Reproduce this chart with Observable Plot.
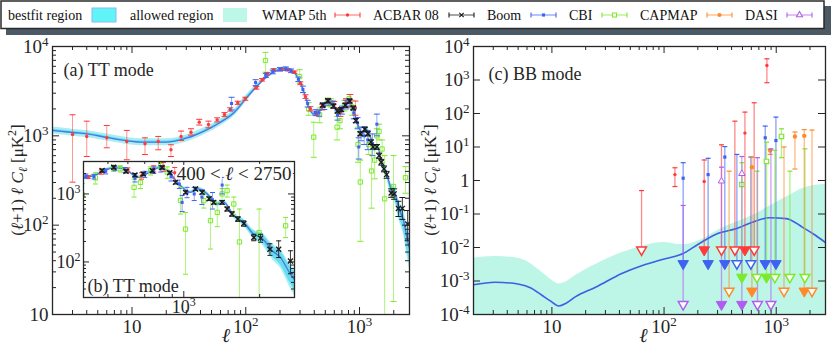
<!DOCTYPE html>
<html><head><meta charset="utf-8">
<script src="https://cdn.jsdelivr.net/npm/d3@7"></script>
<script src="https://cdn.jsdelivr.net/npm/@observablehq/plot@0.6"></script>
<style>
html,body{margin:0;padding:0;background:#fff;}
#wrap{position:relative;width:831px;height:347px;overflow:hidden;}
#wrap svg{position:absolute;}
</style></head><body><div id="wrap"></div>
<script>
// ---------------- DATA ----------------
// Legend / series names and colours
const seriesNames = ["WMAP 5th", "ACBAR 08", "Boom", "CBI", "CAPMAP", "DASI"];
const seriesColors = ["#ff3a3a", "#1a1a1a", "#3d63f0", "#7bea2a", "#ff8a2b", "#b05cf0"];
const bandNames = ["bestfit region", "allowed region"];

// TT theory (bestfit curve) and bands
const ttL = [2,3,4,6,8,12,20,30,45,60,80,100,135,175,220,265,300,335,360,400,440,527,578,663,740,809,872,970,1063,1131,1239,1358,1443,1579,1730,1896,2047,2244,2421,2650,2750];
const ttD = [1150,1090,1050,960,900,850,850,940,1160,1420,1850,2600,3950,5150,5650,5150,4000,2750,2050,1750,1860,2420,2330,1760,2150,2470,2080,1330,1056,1185,1000,712,752,478,381,256,224,146,116,66,55];
const ttBestLo = [1116,1057,1019,931,873,825,825,912,1125,1377,1795,2522,3851,5021,5509,5021,3900,2681,1999,1706,1814,2360,2272,1716,2096,2408,2028,1297,1030,1126,950,676,714,454,351,230,193,120,90,48,39];
const ttBestHi = [1184,1123,1081,989,927,875,875,968,1195,1463,1905,2678,4049,5279,5791,5279,4100,2819,2101,1794,1907,2481,2388,1804,2204,2532,2132,1363,1082,1244,1050,748,790,502,411,282,255,172,142,84,72];
const ttAllowLo = [1047,992,956,874,819,774,774,855,1056,1292,1684,2366,3753,4893,5368,4893,3800,2613,1948,1663,1767,2299,2214,1672,2043,2347,1976,1264,1003,1090,920,655,692,440,335,218,179,110,81,41,32];
const ttAllowHi = [1253,1188,1144,1046,981,926,926,1025,1264,1548,2016,2834,4148,5408,5933,5408,4200,2888,2153,1838,1953,2541,2447,1848,2258,2594,2184,1397,1109,1280,1080,769,812,516,427,294,269,183,151,91,78];

// TT data: WMAP 5th
const ttWmapL  = [3,4,6,9,13,17,22,27,33,39,47,56,65,73,85,99,124,139,154,176,206,234,268,302,335,370,418,470,530,600,680,760,830,920];
const ttWmapV  = [1035,984,950,865,815,865,698,984,1098,1422,1340,1510,1735,1973,2344,2600,3450,4240,4950,5490,5550,5490,5160,3880,2750,2010,1770,2100,2450,2250,1850,2350,2500,2050];
const ttWmapLo = [303,587,735,540,618,698,587,887,1020,1320,1230,1430,1650,1890,2250,2500,3330,4100,4800,5330,5400,5330,5000,3740,2620,1900,1680,1950,2300,2080,1650,2100,2150,1700];
const ttWmapHi = [1722,1459,1306,1150,950,984,794,1130,1200,1530,1460,1590,1820,2060,2440,2700,3570,4380,5100,5650,5700,5650,5320,4020,2880,2120,1860,2250,2600,2420,2050,2600,2900,2450];
// TT data: Boomerang
const ttBoomL  = [75,122,150,173,200,225,250,290,318,350,409,440,490,533,585,640,700,760,810,890,960,985,1030,1100,1180,1300,1420];
const ttBoomV  = [2300,3950,4750,5200,5550,5650,5350,4300,3300,2300,1830,1800,2150,2380,2250,1700,1950,2250,2350,1800,1400,750,1050,1000,900,820,1350];
const ttBoomLo = [1950,3650,4500,4950,5300,5400,5100,4050,3050,2100,1700,1660,1970,2200,2050,1500,1750,2000,2100,1550,1200,550,880,800,700,600,1000];
const ttBoomHi = [2700,4250,5000,5450,5800,5900,5600,4550,3600,2500,1960,1940,2330,2560,2450,1900,2150,2500,2600,2050,1600,950,1250,1250,1150,1050,1750];
// TT data: ACBAR 08
const ttAcbarL  = [474,527,590,640,690,750,820,880,927,1016,1113,1182,1260,1315,1419,1486,1553,1640,1730,1896,2017,2197,2380,2650];
const ttAcbarV  = [2210,2470,2150,1900,1970,2200,2450,2050,1480,1055,1185,1055,850,752,752,600,506,427,368,229,224,154,154,103];
const ttAcbarLo = [2100,2350,2040,1800,1870,2090,2330,1950,1400,1000,1120,1000,800,710,705,560,470,395,335,205,195,125,116,67];
const ttAcbarHi = [2320,2590,2260,2000,2070,2310,2570,2150,1560,1110,1250,1110,900,795,800,640,545,460,400,255,255,185,204,146];
// TT data: CBI
const ttCbiL  = [149,298,357,396,446,527,560,635,673,738,809,860,970,1016,1200,1276,1358,1419,1486,1579,1663,1990,2536];
const ttCbiV  = [6970,4610,2000,967,1720,2400,2350,1250,1480,2210,2600,2100,800,304,796,404,535,1000,1120,712,197,271,340];
const ttCbiLo = [5160,3870,1700,575,1400,2150,2100,900,1200,1900,2300,1700,506,66,620,155,330,800,900,500,10,14,228];
const ttCbiHi = [8600,5500,2350,1420,2050,2650,2600,1650,1800,2500,2900,2500,1250,535,1000,800,750,1200,1350,900,600,600,452];

// BB theory curve and allowed region (upper envelope)
const bbLineL = [2,3.1,5.1,6.5,8.2,9.6,11.5,13.5,16.3,24.5,42.5,64,96.5,146,205,309,436,614,869,1230,1720,2200,2750];
const bbLineV = [7.7e-4,9.2e-4,8e-4,6.2e-4,3.7e-4,2.6e-4,1.8e-4,2.2e-4,3.4e-4,6.5e-4,1.7e-3,2.9e-3,4.4e-3,6.5e-3,1.3e-2,2.7e-2,3.6e-2,5.7e-2,7.7e-2,7.3e-2,4e-2,2.4e-2,1.4e-2];
const bbAllowL  = [2,3.1,5.1,8.2,10,11.5,13.5,16.3,24.5,42.5,64,96.5,146,205,309,614,1230,1860,2750];
const bbAllowHi = [4.8e-3,5.4e-3,4.7e-3,1.8e-3,1.05e-3,8.2e-4,9.5e-4,1.45e-3,3.1e-3,7.1e-3,1.07e-2,1.4e-2,1.2e-2,1.6e-2,3.4e-2,9e-2,0.32,0.63,0.76];

// BB data (c = central value or null, lo = lower end / arrow tip, arr: "f" filled arrow, "o" open arrow, "" none)
const bbWmapL  = [63,125,228,325,428,526,636,826];
const bbWmapC  = [null,1.5,0.93,null,null,26,null,2700];
const bbWmapHi = [0.5,2.4,4.1,11.6,59,110,209,4300];
const bbWmapLo = [0.0085,0.66,0.0085,0.0085,0.0085,0.0085,0.0085,830];
const bbWmapA  = ["o","","f","o","o","f","o",""];

const bbBoomL  = [148,247,348,446,594,798,994];
const bbBoomC  = [1.17,1.5,5.0,null,null,18.8,15.6];
const bbBoomHi = [3.4,4.6,10.3,6.0,5.0,42,78];
const bbBoomLo = [0.0033,0.0033,0.0033,0.0033,0.0033,0.0033,0.0033];
const bbBoomA  = ["f","f","f","o","o","f","f"];

const bbCbiL  = [494,673,819,973,1114,1324,1804];
const bbCbiC  = [0.76,null,3.7,null,20.6,null,null];
const bbCbiHi = [3.4,1.9,13.9,8,35,1.9,8.8];
const bbCbiLo = [0.0013,0.0013,0.0013,0.0013,4.8,0.0013,0.0013];
const bbCbiA  = ["f","o","f","o","","o","o"];

const bbCapL  = [380,607,883,1173,1468,1778,2084];
const bbCapC  = [null,2.5,7.8,null,20.6,21.5,null];
const bbCapHi = [1.9,5,8.5,10,28,33,32];
const bbCapLo = [0.0005,0.0005,6,0.0005,2.2,0.0005,0.0005];
const bbCapA  = ["o","f","","o","","f","o"];

const bbDasiL  = [148,325,494,681,897];
const bbDasiC  = [null,0.96,1.6,null,null];
const bbDasiHi = [0.18,2.5,5.2,4.8,8.8];
const bbDasiLo = [0.0002,0.0002,0.0002,0.0002,0.0002];
const bbDasiA  = ["o","f","f","o","o"];

// ---------------- STYLE ----------------
const FONT = '"Liberation Serif","Times New Roman",Times,serif';
const INK = "#262626";
const [RED, BLACK, BLUE, GREEN, ORANGE, PURPLE] = seriesColors;
const TT_ALLOW = "#aaeef3", TT_BEST = "#66def0", TT_LINE = "#4f74e0";
const BB_ALLOW = "#bdf5e6", BB_LINE = "#3c5fe6";
const LEG_BEST = "#5ef4f8", LEG_ALLOW = "#bcf7e8";

// ---------------- HELPERS ----------------
const capSym = w => ({draw(ctx){ ctx.moveTo(-w/2,0); ctx.lineTo(w/2,0); }});
const isMaj = v => Math.abs(Math.log10(v) - Math.round(Math.log10(v))) < 1e-6;

// inward frame ticks on all four sides (W,H = frame size in px)
function frameTicks(xdom, ydom, W, H, {yMinor = true, L = 7, l = 4} = {}) {
  const xt = d3.scaleLog().domain(xdom).ticks().filter(v => v >= xdom[0] && v <= xdom[1]);
  const yt = d3.scaleLog().domain(ydom).ticks().filter(v => v >= ydom[0] && v <= ydom[1]);
  const o = {stroke: INK, strokeWidth: 1};
  const marks = [];
  for (const [arr, len] of [[xt.filter(isMaj), L], [xt.filter(v => !isMaj(v)), l]]) {
    marks.push(Plot.tickX(arr, {x: d => d, insetTop: H - len, ...o}));
    marks.push(Plot.tickX(arr, {x: d => d, insetBottom: H - len, ...o}));
  }
  for (const [arr, len] of [[yt.filter(isMaj), L], [yMinor ? yt.filter(v => !isMaj(v)) : [], l]]) {
    marks.push(Plot.tickY(arr, {y: d => d, insetRight: W - len, ...o}));
    marks.push(Plot.tickY(arr, {y: d => d, insetLeft: W - len, ...o}));
  }
  return marks;
}

const series = (L, V, Lo, Hi) => L.map((l, i) => ({l, v: V[i], lo: Lo[i], hi: Hi[i]}));
const bbSeries = (L, C, Lo, Hi, A) => L.map((l, i) => ({l, c: C[i], lo: Lo[i], hi: Hi[i], arr: A[i]}));

function errMarks(data, col, marker, capW, lw, op) {
  return [
    Plot.ruleX(data, {x: "l", y1: "lo", y2: "hi", stroke: col, strokeOpacity: op, strokeWidth: lw, clip: true}),
    Plot.dot(data, {x: "l", y: "lo", symbol: capSym(capW), stroke: col, fill: "none", strokeWidth: lw, clip: true}),
    Plot.dot(data, {x: "l", y: "hi", symbol: capSym(capW), stroke: col, fill: "none", strokeWidth: lw, clip: true}),
    Plot.dot(data, {x: "l", y: "v", ...marker, clip: true})
  ];
}

const fmtA = v => { const e = Math.round(Math.log10(v)); return e === 0 ? "1" : e === 1 ? "10" : "10^" + e; };
const fmtB = v => { const e = Math.round(Math.log10(v)); return e === 0 ? "1" : "10^" + e; };

function richify(root) {
  root.querySelectorAll("text").forEach(t => {
    const s = t.textContent;
    if (!/[\^ℓ]/.test(s) || t.querySelector("tspan")) return;
    const fs = parseFloat(getComputedStyle(t).fontSize) || 18;
    const rise = Math.round(fs * 0.38);
    const parts = s.match(/\^-?\d+|ℓ|[^\^ℓ]+/g);
    t.textContent = "";
    let raised = false;
    for (const p of parts) {
      const ts = document.createElementNS("http://www.w3.org/2000/svg", "tspan");
      if (p[0] === "^") {
        ts.textContent = p.slice(1); ts.setAttribute("dy", -rise); ts.setAttribute("font-size", Math.round(fs * 0.68)); raised = true;
      } else {
        if (raised) { ts.setAttribute("dy", rise); raised = false; }
        ts.textContent = p;
        if (p === "ℓ") ts.setAttribute("font-style", "italic");
      }
      t.appendChild(ts);
    }
  });
}

function yLabel(svg, x, y) {
  const t = d3.select(svg).append("text")
    .attr("transform", `translate(${x},${y}) rotate(-90)`)
    .attr("text-anchor", "middle").attr("font-size", 17).attr("fill", INK).attr("font-family", FONT);
  t.append("tspan").text("(");
  t.append("tspan").attr("font-style", "italic").text("ℓ");
  t.append("tspan").text("+1) ");
  t.append("tspan").attr("font-style", "italic").text("ℓ C");
  t.append("tspan").attr("font-style", "italic").attr("font-size", 12).attr("dy", 4).text("ℓ");
  t.append("tspan").attr("dy", -4).text(" [μK");
  t.append("tspan").attr("font-size", 12).attr("dy", -7).text("2");
  t.append("tspan").attr("dy", 7).text("]");
}

function place(el, left, top) {
  el.style.position = "absolute"; el.style.left = left + "px"; el.style.top = top + "px";
  document.getElementById("wrap").appendChild(el);
}

// ---------------- BUILD TT DATA ----------------
const tt = ttL.map((l, i) => ({l, d: ttD[i], bl: ttBestLo[i], bh: ttBestHi[i], al: ttAllowLo[i], ah: ttAllowHi[i]}));
const wmap = series(ttWmapL, ttWmapV, ttWmapLo, ttWmapHi);
const boom = series(ttBoomL, ttBoomV, ttBoomLo, ttBoomHi);
const acbar = series(ttAcbarL, ttAcbarV, ttAcbarLo, ttAcbarHi);
const cbi = series(ttCbiL, ttCbiV, ttCbiLo, ttCbiHi);

const mkW = {symbol: "circle", r: 1.7, fill: RED, stroke: "none"};
const mkB = {symbol: "square", r: 1.7, fill: BLUE, stroke: "none"};
const mkA = {symbol: "times", r: 2.4, stroke: BLACK, strokeWidth: 1.3, fill: "none"};
const mkC = {symbol: "square", r: 2.4, fill: "none", stroke: GREEN, strokeWidth: 1};

function ttLayers(capW) {
  return [
    Plot.areaY(tt, {x: "l", y1: "al", y2: "ah", fill: TT_ALLOW, curve: "monotone-x", clip: true}),
    Plot.areaY(tt, {x: "l", y1: "bl", y2: "bh", fill: TT_BEST, curve: "monotone-x", clip: true}),
    Plot.line(tt, {x: "l", y: "d", stroke: TT_LINE, strokeWidth: 1.3, curve: "monotone-x", clip: true}),
    ...errMarks(cbi, GREEN, mkC, capW, 1, 0.6),
    ...errMarks(wmap, RED, mkW, capW, 1, 0.55),
    ...errMarks(boom, BLUE, mkB, capW, 1, 0.55),
    ...errMarks(acbar, BLACK, mkA, capW, 1, 0.85)
  ];
}

const xDom = [2, 2750];
const baseStyle = {background: "transparent", fontFamily: FONT, fontSize: "19px", color: INK, overflow: "visible"};

// ---------------- LEFT: TT ----------------
const ttPlot = Plot.plot({
  width: 415, height: 347, marginLeft: 52, marginRight: 6, marginTop: 46, marginBottom: 33,
  x: {type: "log", domain: xDom, axis: null},
  y: {type: "log", domain: [10, 1e4], axis: null},
  style: baseStyle,
  marks: [
    ...ttLayers(6),
    ...frameTicks(xDom, [10, 1e4], 357, 268),
    Plot.frame({stroke: INK, strokeWidth: 1.3}),
    Plot.axisX({ticks: [10, 100, 1000], tickFormat: fmtA, tickSize: 0, tickPadding: 5, label: null}),
    Plot.axisY({ticks: [10, 100, 1000, 10000], tickFormat: fmtA, tickSize: 0, tickPadding: 4, label: null}),
    Plot.text(["(a) TT mode"], {text: d => d, frameAnchor: "top-left", dx: 11, dy: 17, textAnchor: "start", fontSize: 18}),
    Plot.text(["ℓ"], {text: d => d, frameAnchor: "bottom", dx: -5, dy: 27, fontSize: 20, fontStyle: "italic"})
  ]
});
place(ttPlot, 0, 0);
yLabel(ttPlot, 23, 180);
richify(ttPlot);

// ---------------- INSET: TT 400<l<2750 ----------------
const inDomX = [400, 2750], inDomY = [30, 3000];
const inset = Plot.plot({
  width: 253, height: 160, marginLeft: 40, marginRight: 2, marginTop: 2, marginBottom: 22,
  x: {type: "log", domain: inDomX, axis: null},
  y: {type: "log", domain: inDomY, axis: null},
  style: {...baseStyle, fontSize: "18px"},
  marks: [
    Plot.frame({fill: "white", stroke: "none"}),
    ...ttLayers(5),
    ...frameTicks(inDomX, inDomY, 211, 136, {L: 6, l: 3}),
    Plot.frame({stroke: INK, strokeWidth: 1.3}),
    Plot.axisX({ticks: [1000], tickFormat: fmtA, tickSize: 0, tickPadding: 3, label: null}),
    Plot.axisY({ticks: [100, 1000], tickFormat: fmtA, tickSize: 0, tickPadding: 3, label: null}),
    Plot.text(["400 < ℓ < 2750"], {text: d => d, frameAnchor: "top-right", dx: -3, dy: 5, textAnchor: "end", fontSize: 19, stroke: "white", strokeWidth: 4, fill: INK}),
    Plot.text(["(b) TT mode"], {text: d => d, frameAnchor: "bottom-left", dx: 4, dy: -6, textAnchor: "start", fontSize: 18})
  ]
});
place(inset, 43, 159);
richify(inset);

// ---------------- RIGHT: BB ----------------
const bbLine = bbLineL.map((l, i) => ({l, v: bbLineV[i]}));
const bbAllow = bbAllowL.map((l, i) => ({l, hi: bbAllowHi[i]}));
const bbSets = [
  [bbSeries(bbWmapL, bbWmapC, bbWmapLo, bbWmapHi, bbWmapA), RED, {symbol: "circle", r: 1.7, fill: RED, stroke: "none"}],
  [bbSeries(bbBoomL, bbBoomC, bbBoomLo, bbBoomHi, bbBoomA), BLUE, {symbol: "square", r: 1.8, fill: BLUE, stroke: "none"}],
  [bbSeries(bbCbiL, bbCbiC, bbCbiLo, bbCbiHi, bbCbiA), GREEN, {symbol: "square", r: 2.5, fill: "white", stroke: GREEN, strokeWidth: 1.2}],
  [bbSeries(bbCapL, bbCapC, bbCapLo, bbCapHi, bbCapA), ORANGE, {symbol: "circle", r: 2.2, fill: ORANGE, stroke: "none"}],
  [bbSeries(bbDasiL, bbDasiC, bbDasiLo, bbDasiHi, bbDasiA), PURPLE, {symbol: "triangle", r: 2.4, fill: "white", stroke: PURPLE, strokeWidth: 1}]
];
function bbMarks([data, col, marker]) {
  return [
    Plot.ruleX(data, {x: "l", y1: "lo", y2: "hi", stroke: col, strokeOpacity: 0.6, strokeWidth: 1.3, clip: true}),
    Plot.dot(data, {x: "l", y: "hi", symbol: capSym(5), stroke: col, fill: "none", strokeWidth: 1.2, clip: true}),
    Plot.dot(data.filter(d => !d.arr), {x: "l", y: "lo", symbol: capSym(5), stroke: col, fill: "none", strokeWidth: 1.2, clip: true}),
    Plot.dot(data.filter(d => d.c != null), {x: "l", y: "c", ...marker, clip: true})
  ];
}
function bbArrows([data, col]) {
  return [
    Plot.dot(data.filter(d => d.arr === "f"), {x: "l", y: "lo", symbol: "triangle", rotate: 180, r: 3.9, fill: col, stroke: col, strokeWidth: 1}),
    Plot.dot(data.filter(d => d.arr === "o"), {x: "l", y: "lo", symbol: "triangle", rotate: 180, r: 3.6, fill: "white", stroke: col, strokeWidth: 1.5})
  ];
}
const bbDomY = [1e-4, 1e4];
const bbPlot = Plot.plot({
  width: 416, height: 347, marginLeft: 58, marginRight: 6, marginTop: 46, marginBottom: 33,
  x: {type: "log", domain: xDom, axis: null},
  y: {type: "log", domain: bbDomY, axis: null},
  style: baseStyle,
  marks: [
    Plot.areaY(bbAllow, {x: "l", y1: () => 1e-4, y2: "hi", fill: BB_ALLOW, curve: "monotone-x", clip: true}),
    Plot.line(bbLine, {x: "l", y: "v", stroke: BB_LINE, strokeWidth: 1.6, curve: "monotone-x", clip: true}),
    ...bbSets.flatMap(bbMarks),
    ...bbSets.flatMap(bbArrows),
    ...frameTicks(xDom, bbDomY, 352, 268, {yMinor: false}),
    Plot.frame({stroke: INK, strokeWidth: 1.3}),
    Plot.axisX({ticks: [10, 100, 1000], tickFormat: fmtA, tickSize: 0, tickPadding: 5, label: null}),
    Plot.axisY({ticks: [1e-4, 1e-3, 1e-2, 1e-1, 1, 10, 100, 1000, 10000], tickFormat: fmtB, tickSize: 0, tickPadding: 4, label: null}),
    Plot.text(["(c) BB mode"], {text: d => d, frameAnchor: "top-left", dx: 15, dy: 21, textAnchor: "start", fontSize: 18}),
    Plot.text(["ℓ"], {text: d => d, frameAnchor: "bottom", dx: -6, dy: 27, fontSize: 20, fontStyle: "italic"})
  ]
});
place(bbPlot, 415, 0);
yLabel(bbPlot, 21, 180);
richify(bbPlot);

// ---------------- LEGEND ----------------
const lg = d3.create("svg").attr("width", 831).attr("height", 36).attr("font-family", FONT);
lg.append("rect").attr("x", 6).attr("y", 6).attr("width", 825).attr("height", 29).attr("fill", "#4b5a64");
lg.append("rect").attr("x", 1).attr("y", 1).attr("width", 823).attr("height", 27.5).attr("fill", "white").attr("stroke", "#2a2a2a").attr("stroke-width", 1.5);
const legTextX = [8, 130, 262, 373, 487, 569, 640, 745];
const legSymX = [92, 223, 335, 449, 531, 602, 707, 787];
const legNames = [...bandNames, ...seriesNames];
legNames.forEach((n, i) => {
  lg.append("text").attr("x", legTextX[i]).attr("y", 19.5).attr("font-size", 14).attr("fill", "#111").text(n);
});
lg.append("rect").attr("x", legSymX[0]).attr("y", 8).attr("width", 24).attr("height", 14).attr("fill", LEG_BEST).attr("stroke", "#8fb8f2").attr("stroke-width", 1);
lg.append("rect").attr("x", legSymX[1]).attr("y", 8).attr("width", 24).attr("height", 14).attr("fill", LEG_ALLOW);
const legMarks = [
  {sym: d3.symbolCircle, size: 9, fill: RED, stroke: "none"},
  {sym: d3.symbolTimes, size: 14, fill: "none", stroke: BLACK},
  {sym: d3.symbolSquare, size: 10, fill: BLUE, stroke: "none"},
  {sym: d3.symbolSquare, size: 16, fill: "white", stroke: GREEN},
  {sym: d3.symbolCircle, size: 14, fill: ORANGE, stroke: "none"},
  {sym: d3.symbolTriangle, size: 16, fill: "white", stroke: PURPLE}
];
seriesColors.forEach((c, i) => {
  const x0 = legSymX[i + 2], x1 = x0 + 25, y = 15;
  const g = lg.append("g").attr("stroke", c).attr("stroke-width", 1.1);
  g.append("line").attr("x1", x0).attr("x2", x1).attr("y1", y).attr("y2", y).attr("stroke-opacity", 0.7);
  g.append("line").attr("x1", x0).attr("x2", x0).attr("y1", y - 2.5).attr("y2", y + 2.5);
  g.append("line").attr("x1", x1).attr("x2", x1).attr("y1", y - 2.5).attr("y2", y + 2.5);
  const m = legMarks[i];
  lg.append("path").attr("d", d3.symbol(m.sym, m.size)()).attr("transform", `translate(${(x0 + x1) / 2},${y})`)
    .attr("fill", m.fill).attr("stroke", m.stroke).attr("stroke-width", 1.1);
});
place(lg.node(), 0, 0);
</script></body></html>
